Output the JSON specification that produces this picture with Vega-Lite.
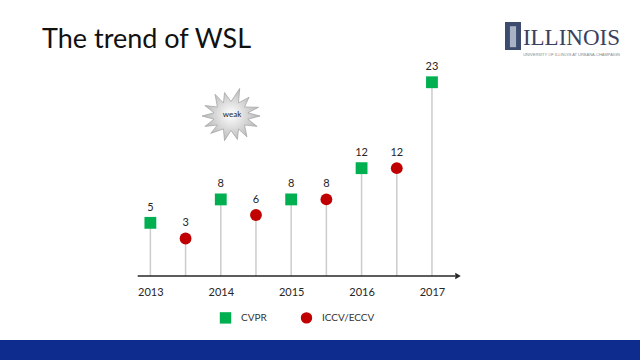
{
  "$schema": "https://vega.github.io/schema/vega-lite/v6.json",
  "padding": 0,
  "spacing": 0,
  "background": "white",
  "config": {"view": {"stroke": null}, "font": "Lato"},
  "title": {
    "text": "ILLINOIS",
    "subtitle": "UNIVERSITY OF ILLINOIS AT URBANA-CHAMPAIGN",
    "anchor": "end",
    "frame": "group",
    "orient": "top",
    "offset": -57,
    "dx": -20,
    "font": "Liberation Serif",
    "fontSize": 23,
    "fontWeight": "normal",
    "color": "#3b4160",
    "subtitleFont": "Liberation Sans",
    "subtitleFontSize": 4,
    "subtitleColor": "#8a8a8a",
    "subtitlePadding": 3
  },
  "vconcat": [
    {
      "width": 640,
      "height": 340,
      "title": {
        "text": "The trend of WSL",
        "anchor": "start",
        "frame": "group",
        "offset": -54,
        "dx": 42,
        "font": "Lato",
        "fontSize": 27,
        "fontWeight": "normal",
        "color": "#111111"
      },
      "data": {
        "values": [
          {"year": 2013, "t": 2013, "conf": "CVPR", "count": 5},
          {"year": 2013, "t": 2013.5, "conf": "ICCV/ECCV", "count": 3},
          {"year": 2014, "t": 2014, "conf": "CVPR", "count": 8},
          {"year": 2014, "t": 2014.5, "conf": "ICCV/ECCV", "count": 6},
          {"year": 2015, "t": 2015, "conf": "CVPR", "count": 8},
          {"year": 2015, "t": 2015.5, "conf": "ICCV/ECCV", "count": 8},
          {"year": 2016, "t": 2016, "conf": "CVPR", "count": 12},
          {"year": 2016, "t": 2016.5, "conf": "ICCV/ECCV", "count": 12},
          {"year": 2017, "t": 2017, "conf": "CVPR", "count": 23}
        ]
      },
      "layer": [
        {
          "mark": {"type": "rule", "color": "#cccccc", "strokeWidth": 1.5},
          "encoding": {
            "x": {
              "field": "t",
              "type": "quantitative",
              "scale": {"domain": [2010.864, 2019.955], "nice": false, "zero": false},
              "axis": {
                "values": [2013, 2014, 2015, 2016, 2017],
                "format": "d",
                "domain": false,
                "ticks": false,
                "grid": false,
                "title": null,
                "offset": -64,
                "labelPadding": 10,
                "labelFontSize": 11,
                "labelColor": "#262626",
                "labelFont": "Lato"
              }
            },
            "y": {
              "field": "count",
              "type": "quantitative",
              "scale": {"domain": [-10, 33.53], "nice": false, "zero": false},
              "axis": null
            },
            "y2": {"datum": -1.805}
          }
        },
        {
          "data": {"values": [{"k": 1}]},
          "mark": {"type": "rule", "color": "#262626", "strokeWidth": 1.5},
          "encoding": {
            "x": {"datum": 2012.82, "type": "quantitative"},
            "x2": {"datum": 2017.33},
            "y": {"datum": -1.805, "type": "quantitative"}
          }
        },
        {
          "data": {"values": [{"k": 1}]},
          "mark": {"type": "point", "shape": "triangle-right", "filled": true, "color": "#262626", "size": 40, "opacity": 1},
          "encoding": {
            "x": {"datum": 2017.37, "type": "quantitative"},
            "y": {"datum": -1.805, "type": "quantitative"}
          }
        },
        {
          "mark": {"type": "point", "filled": true, "size": 140, "opacity": 1},
          "encoding": {
            "x": {"field": "t", "type": "quantitative"},
            "y": {"field": "count", "type": "quantitative"},
            "shape": {
              "field": "conf",
              "type": "nominal",
              "scale": {"domain": ["CVPR", "ICCV/ECCV"], "range": ["square", "circle"]},
              "legend": {
                "orient": "none",
                "legendX": 219,
                "legendY": 311,
                "direction": "horizontal",
                "title": null,
                "labelFontSize": 10,
                "labelColor": "#333333",
                "symbolSize": 130,
                "columnPadding": 33,
                "labelOffset": 9,
                "padding": 0
              }
            },
            "color": {
              "field": "conf",
              "type": "nominal",
              "scale": {"domain": ["CVPR", "ICCV/ECCV"], "range": ["#00b050", "#c00000"]},
              "legend": {
                "orient": "none",
                "legendX": 219,
                "legendY": 311,
                "direction": "horizontal",
                "title": null,
                "labelFontSize": 10,
                "labelColor": "#333333",
                "symbolSize": 130,
                "columnPadding": 33,
                "labelOffset": 9,
                "padding": 0
              }
            }
          }
        },
        {
          "mark": {"type": "text", "dy": -15, "fontSize": 11, "color": "#262626", "font": "Lato"},
          "encoding": {
            "x": {"field": "t", "type": "quantitative"},
            "y": {"field": "count", "type": "quantitative"},
            "text": {"field": "count", "type": "quantitative"}
          }
        },
        {
          "data": {"values": [{"k": 1}]},
          "mark": {
            "type": "point",
            "filled": true,
            "opacity": 1,
            "size": 3364,
            "shape": "M1,0 L0.585,0.111 L0.901,0.36 L0.469,0.31 L0.55,0.72 L0.26,0.449 L0.2225,0.809 L0,0.498 L-0.2225,0.85 L-0.26,0.449 L-0.7,0.6 L-0.469,0.31 L-0.901,0.36 L-0.585,0.111 L-1,0 L-0.585,-0.111 L-0.901,-0.36 L-0.469,-0.31 L-0.55,-0.75 L-0.26,-0.449 L-0.2225,-0.809 L0,-0.498 L0.3,-0.95 L0.26,-0.449 L0.6235,-0.649 L0.469,-0.31 L0.95,-0.3 L0.585,-0.111 Z",
            "color": {"gradient": "radial", "stops": [{"offset": 0, "color": "#ffffff"}, {"offset": 1, "color": "#b5b5b5"}]},
            "stroke": "#a0a0a0",
            "strokeWidth": 0.7
          },
          "encoding": {
            "x": {"datum": 2014.145, "type": "quantitative"},
            "y": {"datum": 18.68, "type": "quantitative"}
          }
        },
        {
          "data": {"values": [{"word": "weak"}]},
          "mark": {"type": "text", "fontSize": 8, "color": "#222222", "font": "Lato"},
          "encoding": {
            "x": {"datum": 2014.16, "type": "quantitative"},
            "y": {"datum": 18.8, "type": "quantitative"},
            "text": {"field": "word"}
          }
        },
        {
          "data": {"values": [{"k": 1}]},
          "mark": {"type": "point", "filled": true, "opacity": 1, "size": 784, "shape": "M-0.57,-1 H0.57 V1 H-0.57 Z", "color": "#3d4b6e"},
          "encoding": {
            "x": {"datum": 2018.151, "type": "quantitative"},
            "y": {"datum": 28.92, "type": "quantitative"}
          }
        },
        {
          "data": {"values": [{"k": 1}]},
          "mark": {"type": "point", "filled": true, "opacity": 1, "size": 784, "shape": "M-0.22,-0.7 H0.22 V0.8 H-0.22 Z", "color": "#aab2c6"},
          "encoding": {
            "x": {"datum": 2018.151, "type": "quantitative"},
            "y": {"datum": 28.92, "type": "quantitative"}
          }
        }
      ]
    },
    {
      "width": 640,
      "height": 20,
      "view": {"fill": "#0d2c8d", "stroke": null},
      "data": {"values": [{"k": 1}]},
      "mark": {"type": "point", "opacity": 0}
    }
  ]
}
